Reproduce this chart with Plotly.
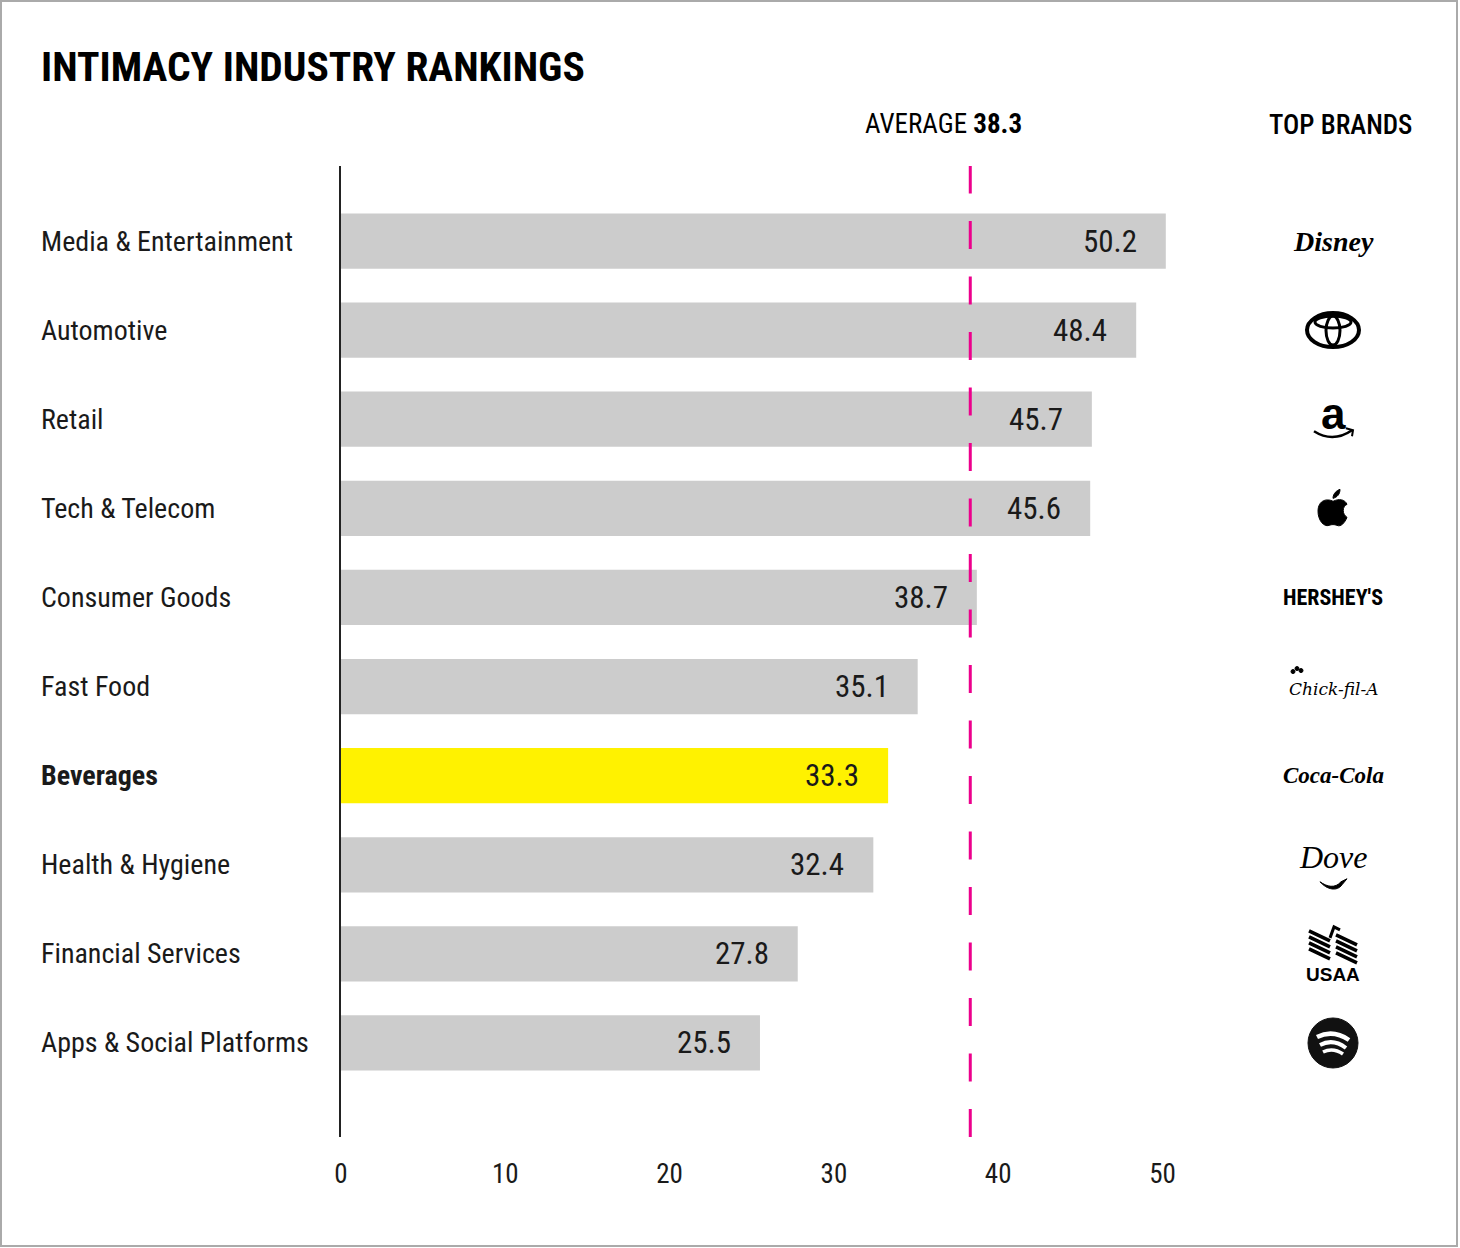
import plotly.graph_objects as go

# ---------------- data ----------------
categories = ["Media & Entertainment", "Automotive", "Retail", "Tech & Telecom",
              "Consumer Goods", "Fast Food", "Beverages", "Health & Hygiene",
              "Financial Services", "Apps & Social Platforms"]
scores = [50.2, 48.4, 45.7, 45.6, 38.7, 35.1, 33.3, 32.4, 27.8, 25.5]
highlight = "Beverages"
average = 38.3
tick_values = [0, 10, 20, 30, 40, 50]
brands = ["Disney", "Toyota", "Amazon", "Apple", "HERSHEY'S", "Chick-fil-A",
          "Coca-Cola", "Dove", "USAA", "Spotify"]

# ---------------- layout geometry ----------------
W, H = 1460, 1248
ML, MR, MT, MB = 341, 0, 166, 111
PW, PH = W - ML - MR, H - MT - MB
UNIT = 16.43  # px per score unit

def px2x(p):
    return (p - ML) / PW

def py2y(p):
    return (H - MB - p) / PH

FONT = "Roboto Condensed, Liberation Sans Narrow, sans-serif"
INK = "#1a1a1a"
GREY = "#cccccc"
YELLOW = "#fff200"
PINK = "#ec008c"

colors = [YELLOW if c == highlight else GREY for c in categories]

fig = go.Figure()
fig.add_trace(go.Bar(
    x=scores, y=categories, orientation="h",
    marker=dict(color=colors, line=dict(width=0)),
    width=0.62, hoverinfo="x+y",
))

annotations = []
# title
annotations.append(dict(text="<b>INTIMACY INDUSTRY RANKINGS</b>", xref="paper", yref="paper",
                        x=px2x(39), y=py2y(66), xanchor="left", yanchor="middle",
                        showarrow=False, font=dict(family=FONT, size=41.5, color="#000")))
# headers
annotations.append(dict(text="AVERAGE <b>38.3</b>", xref="paper", yref="paper",
                        x=px2x(943), y=py2y(124), xanchor="center", yanchor="middle",
                        showarrow=False, font=dict(family=FONT, size=27, color="#000")))
annotations.append(dict(text="TOP BRANDS", xref="paper", yref="paper",
                        x=px2x(1340), y=py2y(125), xanchor="center", yanchor="middle",
                        showarrow=False, font=dict(family=FONT, size=27, color="#000", weight=500)))

# category labels and values
for c, v in zip(categories, scores):
    label = f"<b>{c}</b>" if c == highlight else c
    annotations.append(dict(text=label, xref="paper", yref="y", x=px2x(39), y=c,
                            xanchor="left", yanchor="middle", showarrow=False,
                            font=dict(family=FONT, size=28, color=INK)))
    annotations.append(dict(text=f"{v:.1f}", xref="x", yref="y", x=v, y=c,
                            xanchor="right", yanchor="middle", xshift=-27, showarrow=False,
                            font=dict(family=FONT, size=31, color=INK)))

BX = px2x(1333)
serif = "DejaVu Serif, serif"
# text-style brand marks
brand_text = {
    "Disney": dict(text="<b><i>Disney</i></b>", font=dict(family="Liberation Serif, serif", size=28, color="#000"), yshift=0),
    "Amazon": dict(text="<b>a</b>", font=dict(family="Liberation Sans, Arial", size=44, color="#000"), yshift=6),
    "HERSHEY'S": dict(text="<b>HERSHEY'S</b>", font=dict(family=FONT, size=22, color="#000"), yshift=0),
    "Chick-fil-A": dict(text="<i>Chick-fil-A</i>", font=dict(family=serif, size=17, color="#000"), yshift=-2),
    "Coca-Cola": dict(text="<b><i>Coca-Cola</i></b>", font=dict(family="Liberation Serif, serif", size=23, color="#000"), yshift=0),
    "Dove": dict(text="<i>Dove</i>", font=dict(family="Liberation Serif, serif", size=32, color="#000"), yshift=8),
    "USAA": dict(text="<b>USAA</b>", font=dict(family="Liberation Sans, Arial", size=19, color="#000"), yshift=-21),
}
for c, b in zip(categories, brands):
    if b in brand_text:
        d = brand_text[b]
        annotations.append(dict(text=d["text"], xref="paper", yref="y", x=BX, y=c,
                                xanchor="center", yanchor="middle", yshift=d["yshift"],
                                showarrow=False, font=d["font"]))

shapes = []
# average line
shapes.append(dict(type="line", xref="x", yref="paper", x0=average, x1=average, y0=0, y1=1,
                   line=dict(color=PINK, width=3, dash="28px,27.5px"), layer="above"))
# outer border
shapes.append(dict(type="rect", xref="paper", yref="paper", x0=px2x(1), x1=px2x(1457),
                   y0=py2y(1), y1=py2y(1246), line=dict(color="#aaaaaa", width=2),
                   fillcolor="rgba(0,0,0,0)", layer="above"))

def pix_shape(cat, **kw):
    base = dict(xref="paper", yref="y", xsizemode="pixel", ysizemode="pixel",
                xanchor=BX, yanchor=cat, layer="above")
    base.update(kw)
    return base

cat_of = dict(zip(brands, categories))
# Toyota emblem
t = cat_of["Toyota"]
shapes.append(pix_shape(t, type="circle", x0=-26, x1=26, y0=-17, y1=17, line=dict(color="#000", width=4)))
shapes.append(pix_shape(t, type="circle", x0=-18, x1=18, y0=2, y1=14, line=dict(color="#000", width=3)))
shapes.append(pix_shape(t, type="circle", x0=-7, x1=7, y0=-15, y1=14, line=dict(color="#000", width=3)))
# Amazon smile
a = cat_of["Amazon"]
shapes.append(pix_shape(a, type="path", path="M -19,-12 Q 0,-24 19,-11", line=dict(color="#000", width=2.5)))
shapes.append(pix_shape(a, type="path", path="M 13,-9 L 20,-11 L 19,-17", line=dict(color="#000", width=2)))
# Apple
ap = cat_of["Apple"]
shapes.append(pix_shape(ap, type="path",
                        path="M 0,7 C -5,10 -15,9 -15,-3 C -15,-12 -9,-19 -4,-17 C -1,-16 1,-16 4,-17 "
                             "C 8,-19 12,-14 14,-9 C 9,-6 9,2 14,4 C 12,9 6,10 0,7 Z",
                        fillcolor="#000", line=dict(color="#000", width=1)))
shapes.append(pix_shape(ap, type="path", path="M 0,10 C 0,15 4,18 7,19 C 7,14 4,11 0,10 Z",
                        fillcolor="#000", line=dict(color="#000", width=1)))
# Chick-fil-A little chick head marks
cf = cat_of["Chick-fil-A"]
for dx, dy in [(-40, 15), (-36, 18), (-32, 16)]:
    shapes.append(pix_shape(cf, type="circle", x0=dx - 2, x1=dx + 2, y0=dy - 2, y1=dy + 2,
                            fillcolor="#000", line=dict(color="#000", width=1)))
# Dove bird
dv = cat_of["Dove"]
shapes.append(pix_shape(dv, type="path",
                        path="M -13,-17 C -6,-22 2,-24 8,-17 L 14,-14 L 9,-20 C 4,-27 -6,-25 -13,-17 Z",
                        fillcolor="#000", line=dict(color="#000", width=1)))
# USAA eagle stripes
us = cat_of["USAA"]
usaa_path = ""
for i in range(4):
    usaa_path += f"M -24,{23 - 6 * i} L -3,{13 - 6 * i} "
    usaa_path += f"M 3,{19 - 6 * i} L 24,{9 - 6 * i} "
shapes.append(pix_shape(us, type="path", path=usaa_path, line=dict(color="#000", width=3.5)))
shapes.append(pix_shape(us, type="path", path="M -3,16 L 1,27 L 7,24",
                        line=dict(color="#000", width=3)))
# Spotify
sp = cat_of["Spotify"]
shapes.append(pix_shape(sp, type="circle", x0=-25, x1=25, y0=-25, y1=25, fillcolor="#111",
                        line=dict(color="#111", width=1)))
for p, w in [("M -16,6 Q 0,14 16,3", 4.5), ("M -13,-2 Q 0,5 13,-5", 4), ("M -10,-9 Q 0,-4 10,-11", 3.5)]:
    shapes.append(pix_shape(sp, type="path", path=p, line=dict(color="#fff", width=w)))

fig.update_layout(
    width=W, height=H,
    margin=dict(l=ML, r=MR, t=MT, b=MB, pad=0),
    paper_bgcolor="#ffffff", plot_bgcolor="#ffffff",
    showlegend=False,
    bargap=0.38,
    annotations=annotations,
    shapes=shapes,
    xaxis=dict(range=[0, PW / UNIT], tickvals=tick_values, showgrid=False, zeroline=False,
               showline=False, ticks="", ticklabelstandoff=18,
               tickfont=dict(family=FONT, size=27, color=INK), fixedrange=True),
    yaxis=dict(categoryorder="array", categoryarray=categories,
               range=[len(categories) - 1 + 94 / 89.1, -75 / 89.1],
               showticklabels=False, showgrid=False, zeroline=False,
               showline=True, linecolor="#222", linewidth=1.5, ticks="", fixedrange=True),
)

fig.write_html("out.html", post_script="document.body.style.margin='0';", config={"displayModeBar": False})
